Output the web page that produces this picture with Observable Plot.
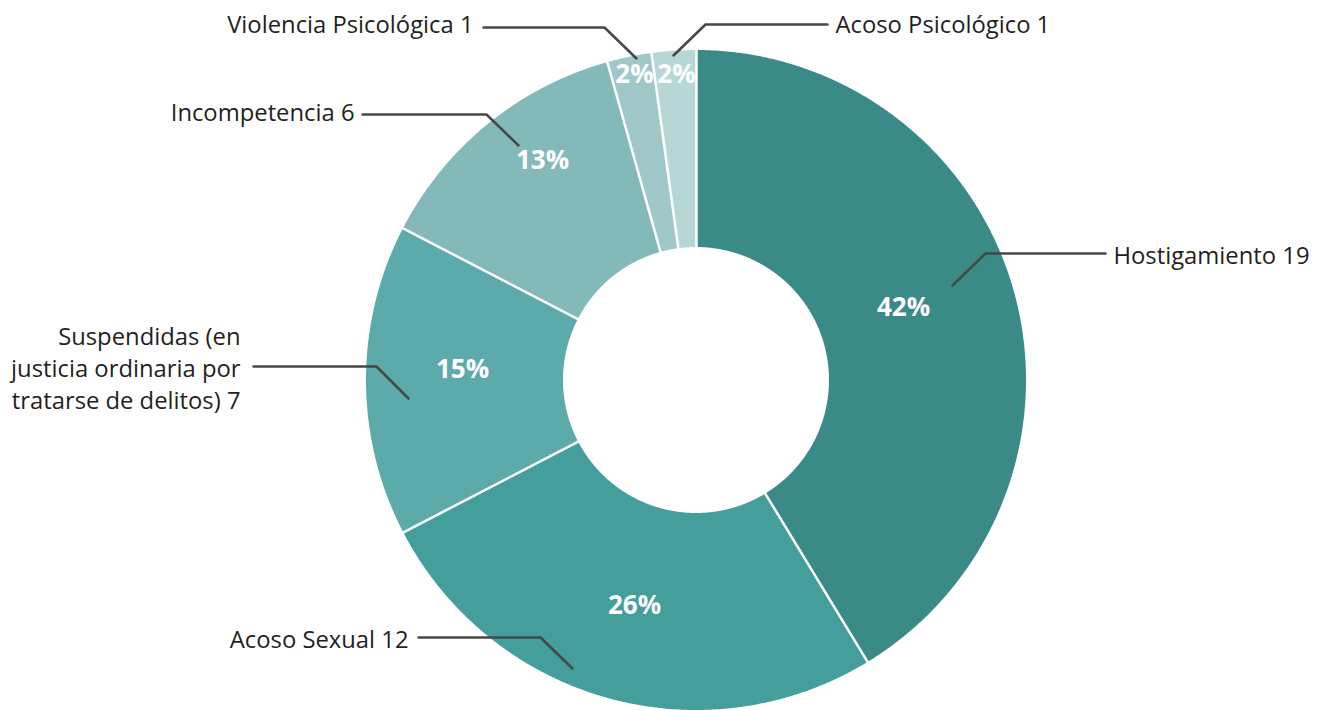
<!DOCTYPE html>
<html>
<head>
<meta charset="utf-8">
<script src="https://cdn.jsdelivr.net/npm/d3@7"></script>
<script src="https://cdn.jsdelivr.net/npm/@observablehq/plot@0.6"></script>
<style>
  html, body { margin: 0; padding: 0; background: #fff; }
  #chart svg { display: block; }
</style>
</head>
<body>
<div id="chart"></div>
<script>
// ---- Data ----
const categories = ["Hostigamiento", "Acoso Sexual", "Suspendidas (en\njusticia ordinaria por\ntratarse de delitos)", "Incompetencia", "Violencia Psicológica", "Acoso Psicológico"];
const counts = [19, 12, 7, 6, 1, 1];
const pctLabels = ["42%", "26%", "15%", "13%", "2%", "2%"];
const colors = ["#3a8a87", "#449e9c", "#5caaa9", "#83b9b9", "#a0c8c8", "#b7d7d7"];

// ---- Layout (pixel positions, separate from the data) ----
const W = 1324, H = 710;
const CX = 696, CY = 380, R_OUT = 330, R_IN = 133;
// percent label positions
const pctPos = [[903, 307], [634, 605], [462, 369], [542, 160], [634, 74], [676, 74]];
// leader polylines: [pointInSlice, elbow, end]
const leaders = [
  [[952, 285], [985, 253], [1105, 253]],
  [[572, 668], [540, 637], [418, 637]],
  [[408, 398], [376, 366], [253, 366]],
  [[518, 145], [486, 114], [362, 114]],
  [[636, 58], [604, 27], [483, 27]],
  [[673, 55], [705, 24], [827, 24]]
];
// label anchor positions and side
const labelPos = [[1113, 253, "start"], [408, 637, "end"], [240, 366, "end"], [354, 110, "end"], [473, 22, "end"], [835, 22, "start"]];

// ---- Build geometry from data ----
const total = d3.sum(counts);
let cum = 0;
const slices = counts.map((v, i) => {
  const a0 = cum / total * 2 * Math.PI;
  cum += v;
  const a1 = cum / total * 2 * Math.PI;
  return {i, cat: categories[i], a0, a1};
});
const arcPts = [];
for (const s of slices) {
  const n = Math.max(4, Math.ceil((s.a1 - s.a0) / (Math.PI / 720)));
  for (let k = 0; k <= n; k++) {
    const a = s.a0 + (s.a1 - s.a0) * k / n;
    arcPts.push({
      cat: s.cat,
      xo: CX + R_OUT * Math.sin(a), yo: CY - R_OUT * Math.cos(a),
      xi: CX + R_IN * Math.sin(a), yi: CY - R_IN * Math.cos(a)
    });
  }
}
const seps = slices.map(s => ({
  x1: CX + (R_IN - 1) * Math.sin(s.a0), y1: CY - (R_IN - 1) * Math.cos(s.a0),
  x2: CX + (R_OUT + 1) * Math.sin(s.a0), y2: CY - (R_OUT + 1) * Math.cos(s.a0)
}));
const leaderPts = leaders.flatMap((pts, i) => pts.map(([x, y]) => ({i, x, y})));
const pctData = pctLabels.map((t, i) => ({t, x: pctPos[i][0], y: pctPos[i][1]}));
const labels = categories.map((c, i) => ({
  t: c + " " + counts[i], x: labelPos[i][0], y: labelPos[i][1], anchor: labelPos[i][2]
}));

const font = "'Open Sans', 'Noto Sans', sans-serif";

const chart = Plot.plot({
  width: W, height: H,
  margin: 0,
  x: {domain: [0, W], range: [0, W], axis: null},
  y: {domain: [0, H], range: [0, H], axis: null},
  color: {domain: categories, range: colors},
  style: {fontFamily: font, background: "#fff"},
  marks: [
    Plot.area(arcPts, {x1: "xo", y1: "yo", x2: "xi", y2: "yi", z: "cat", fill: "cat", curve: "linear"}),
    Plot.link(seps, {x1: "x1", y1: "y1", x2: "x2", y2: "y2", stroke: "#fff", strokeWidth: 2.5}),
    Plot.line(leaderPts, {x: "x", y: "y", z: "i", stroke: "#474747", strokeWidth: 2.5, curve: "linear"}),
    Plot.text(pctData, {x: "x", y: "y", text: "t", fill: "#fff", fontSize: 26, fontWeight: "bold", style: "letter-spacing:-2px"}),
    Plot.text(labels.filter(d => d.anchor === "start"), {x: "x", y: "y", text: "t", textAnchor: "start", fill: "#231f20", fontSize: 23.8, lineHeight: 1.36}),
    Plot.text(labels.filter(d => d.anchor === "end"), {x: "x", y: "y", text: "t", textAnchor: "end", fill: "#231f20", fontSize: 23.8, lineHeight: 1.36})
  ]
});
document.getElementById("chart").appendChild(chart);
</script>
</body>
</html>
